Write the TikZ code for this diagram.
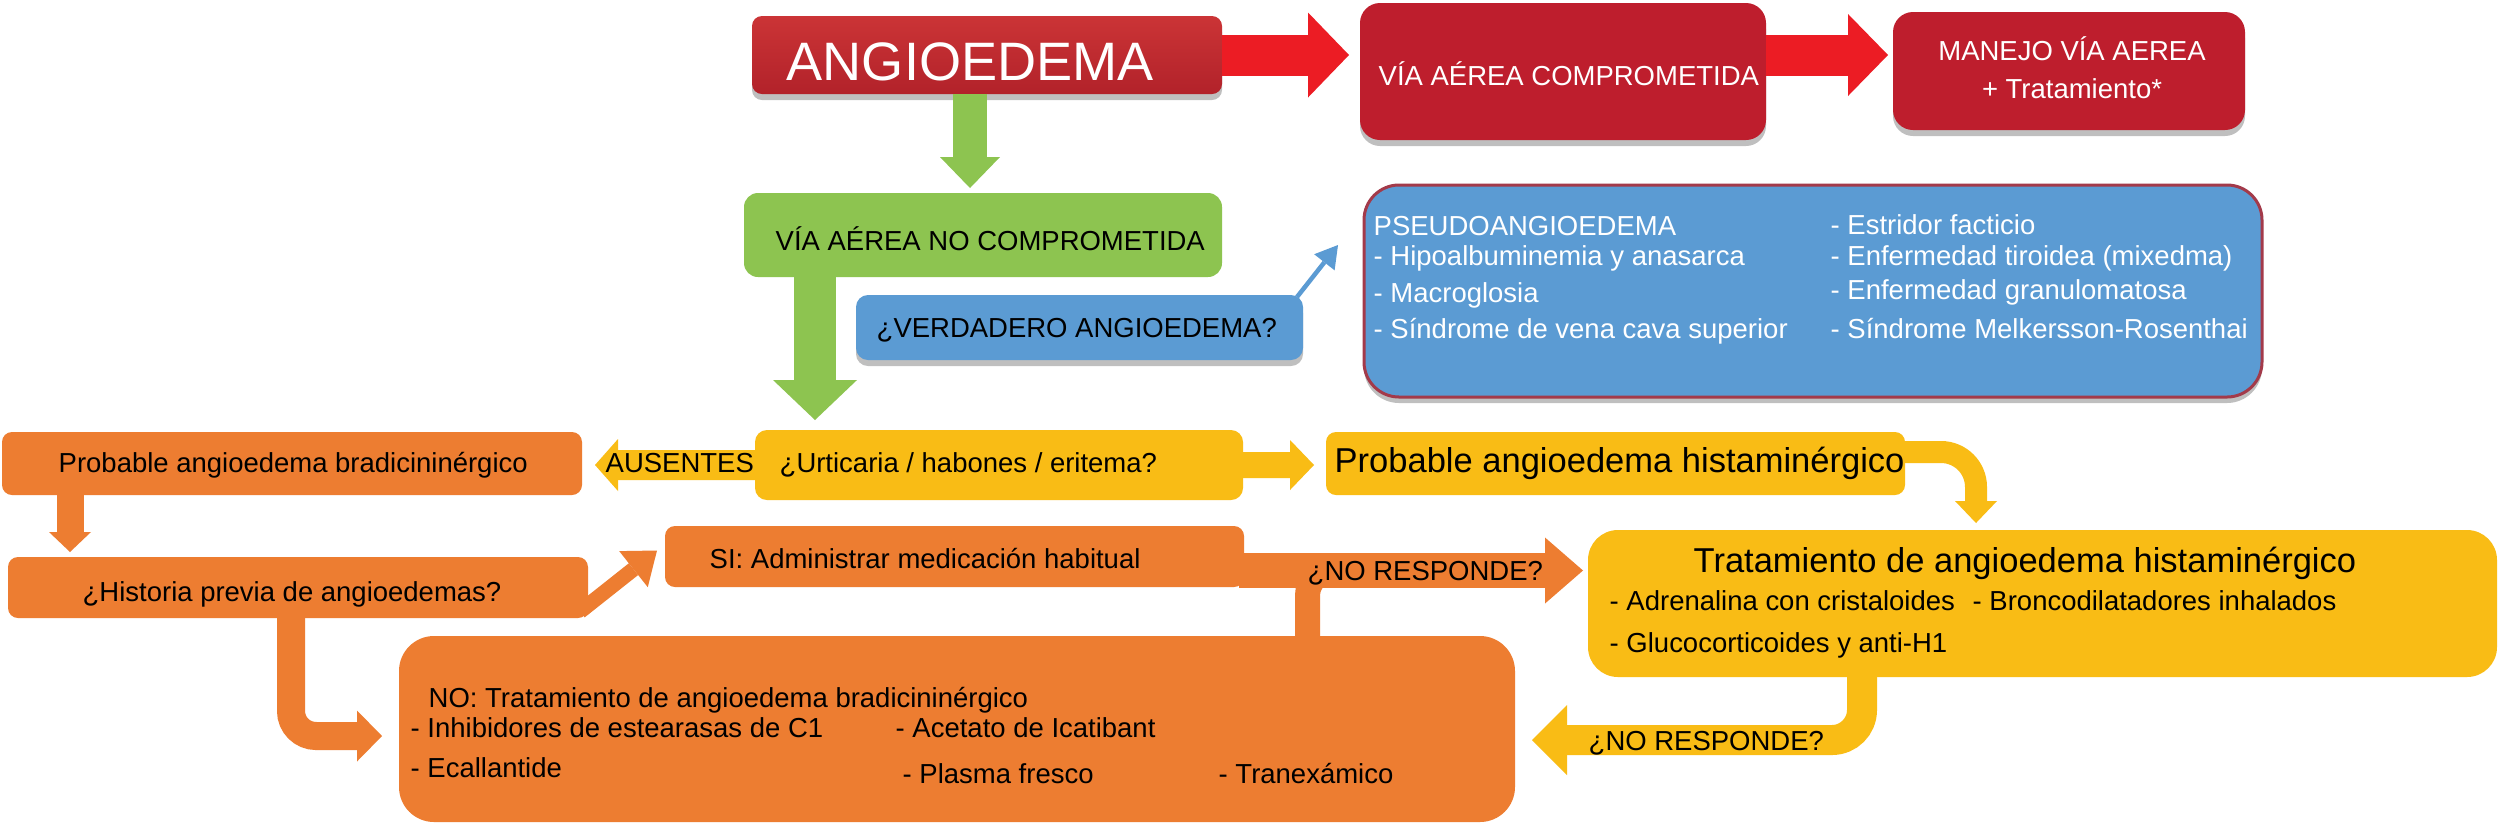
\documentclass[tikz,border=0pt]{standalone}
\usepackage{fontspec}
\setmainfont{Liberation Sans}
\usetikzlibrary{arrows.meta,calc,shadows}
\definecolor{dred}{HTML}{BE1E2D}
\definecolor{angtop}{HTML}{CB3436}
\definecolor{angbot}{HTML}{B2222A}
\definecolor{bred}{HTML}{EC1C24}
\definecolor{lgreen}{HTML}{8DC450}
\definecolor{mblue}{HTML}{5B9BD3}
\definecolor{yel}{HTML}{F9BC15}
\definecolor{orng}{HTML}{ED7D31}
\definecolor{pborder}{HTML}{A33A4A}
\begin{document}
\begin{tikzpicture}[x=0.1mm,y=-0.1mm,
  box/.style={inner sep=0pt, outer sep=0pt},
  shadowed/.style={drop shadow={shadow xshift=0mm, shadow yshift=-0.6mm, opacity=0.25, fill=black}},
  blk/.style n args={4}{draw=#1, line width=#2, -{Triangle[length=#3,width=#4,line width=0pt]}},
  txt/.style={anchor=base west, inner sep=0pt, font=\fontsize{7.82}{9}\selectfont},
  txtw/.style={txt, text=white},
  bigtxt/.style={anchor=base west, inner sep=0pt, font=\fontsize{9.82}{11}\selectfont}
]
\useasboundingbox (0,0) rectangle (2500,824);
\fill[white] (0,0) rectangle (2500,824);

% ---------- boxes ----------
\node[box, top color=angtop, bottom color=angbot, minimum width=47mm, minimum height=7.8mm, rounded corners=1mm, shadowed] (angio) at (987,55) {};
\node[box, fill=dred, minimum width=40.6mm, minimum height=13.7mm, rounded corners=2mm, shadowed] (vac) at (1563,71.5) {};
\node[box, fill=dred, minimum width=35.2mm, minimum height=11.8mm, rounded corners=2mm, shadowed] (manejo) at (2069,71) {};
\node[box, fill=lgreen, minimum width=47.8mm, minimum height=8.4mm, rounded corners=1.4mm] (vanc) at (983,235) {};
\node[box, fill=mblue, minimum width=44.7mm, minimum height=6.5mm, rounded corners=1.2mm, shadowed] (verd) at (1079.5,327.5) {};
\node[box, fill=mblue, draw=pborder, line width=0.3mm, minimum width=89.8mm, minimum height=21.2mm, rounded corners=3.5mm, shadowed] (pseudo) at (1813,291) {};
\node[box, fill=yel, minimum width=48.8mm, minimum height=7mm, rounded corners=1.2mm] (urt) at (999,465) {};
\node[box, fill=orng, minimum width=58mm, minimum height=6.3mm, rounded corners=1mm] (pbrad) at (292,463.5) {};
\node[box, fill=yel, minimum width=57.9mm, minimum height=6.3mm, rounded corners=1mm] (phist) at (1615.5,463.5) {};
\node[box, fill=yel, minimum width=90.9mm, minimum height=14.7mm, rounded corners=3mm] (trath) at (2042.5,603.5) {};
\node[box, fill=orng, minimum width=57.9mm, minimum height=6.1mm, rounded corners=1mm] (si) at (954.5,556.5) {};
\node[box, fill=orng, minimum width=58mm, minimum height=6.1mm, rounded corners=1mm] (hist) at (298,587.5) {};
\node[box, fill=orng, minimum width=111.6mm, minimum height=18.6mm, rounded corners=3.5mm] (nobox) at (957,729) {};

% ---------- connectors ----------
\draw[blk={bred}{4.1mm}{4.1mm}{8.5mm}] (angio.east) -- ($(vac.west)+(-11,-16.5)$);
\draw[blk={bred}{4.1mm}{4mm}{8.2mm}] ($(vac.east)+(0,-16.5)$) -- ($(manejo.west)+(-5,-16)$);
\draw[blk={lgreen}{3.4mm}{3.1mm}{6mm}] ($(angio.south)+(-17,0)$) -- ($(vanc.north)+(-13,-5)$);
\draw[blk={lgreen}{4.2mm}{4mm}{8.4mm}] ($(vanc.south)+(-168,0)$) -- ($(urt.north)+(-184,-10)$);
\draw[blk={mblue}{0.45mm}{2.2mm}{2.6mm}] ($(verd.north east)+(-6,2)$) -- ($(pseudo.west)+(-26,-46)$);
\draw[blk={yel}{3mm}{2.3mm}{5.2mm}] ($(urt.west)+(10,0)$) -- ($(pbrad.east)+(13,1.5)$);
\draw[blk={yel}{2.6mm}{2.4mm}{5mm}] (urt.east) -- ($(phist.west)+(-12,1.5)$);
\draw[blk={yel}{2.2mm}{2.2mm}{4.2mm}, rounded corners=3.5mm] ($(phist.east)+(-10,-11.5)$) -| ($(trath.north)+(-66.5,-7)$);
\draw[blk={orng}{2.7mm}{2mm}{4.2mm}] ($(pbrad.south)+(-222,0)$) -- ($(hist.north)+(-228,-5)$);
\draw[blk={orng}{1.5mm}{3mm}{4.6mm}] ($(hist.east)+(-8,24)$) -- ($(si.west)+(-8,-6)$);
\draw[blk={orng}{2.8mm}{2.5mm}{5.1mm}, rounded corners=2.5mm] ($(hist.south)+(-7,0)$) |- ($(nobox.west)+(-17,7)$);
\draw[orng, line width=2.5mm, rounded corners=2.5mm] ($(nobox.north)+(350.5,4)$) |- ($(si.east)+(150,14)$);
\draw[blk={orng}{3.5mm}{3.8mm}{6.6mm}] ($(si.east)+(-5,14)$) -- ($(trath.west)+(-5,-33)$);
\draw[blk={yel}{3mm}{3.5mm}{7mm}, rounded corners=3mm] ($(trath.south)+(-180.5,-3)$) |- ($(nobox.east)+(17,11)$);

% ---------- texts ----------
\node[txtw, font=\fontsize{15.4}{17}\selectfont] (tangio) at (786,80) {ANGIOEDEMA};
\node[txtw] (tvac) at (1378,85) {VÍA AÉREA COMPROMETIDA};
\node[txtw, anchor=base] (tman1) at (2072,60) {MANEJO VÍA AEREA};
\node[txtw, anchor=base] (tman2) at (2072,98) {+ Tratamiento*};
\node[txt] (tvanc) at (775,250) {VÍA AÉREA NO COMPROMETIDA};
\node[txt] (tverd) at (876,337) {¿VERDADERO ANGIOEDEMA?};
\node[txtw] (tps0) at (1373,235) {PSEUDOANGIOEDEMA};
\node[txtw] (tps1) at (1373,265) {- Hipoalbuminemia y anasarca};
\node[txtw] (tps2) at (1373,302) {- Macroglosia};
\node[txtw] (tps3) at (1373,338) {- Síndrome de vena cava superior};
\node[txtw] (tps4) at (1830,234) {- Estridor facticio};
\node[txtw] (tps5) at (1830,265) {- Enfermedad tiroidea (mixedma)};
\node[txtw] (tps6) at (1830,299) {- Enfermedad granulomatosa};
\node[txtw] (tps7) at (1830,338) {- Síndrome Melkersson-Rosenthai};
\node[txt] (taus) at (605,472) {AUSENTES};
\node[txt] (turt) at (779,472) {¿Urticaria / habones / eritema?};
\node[txt] (tpbrad) at (58,472) {Probable angioedema bradicininérgico};
\node[bigtxt] (tphist) at (1334,472) {Probable angioedema histaminérgico};
\node[txt] (thist) at (82,601) {¿Historia previa de angioedemas?};
\node[txt] (tsi) at (709,568) {SI: Administrar medicación habitual};
\node[txt] (tnr1) at (1307,580) {¿NO RESPONDE?};
\node[bigtxt] (ttrath) at (1693,572) {Tratamiento de angioedema histaminérgico};
\node[txt] (tth1) at (1609,610) {- Adrenalina con cristaloides};
\node[txt] (tth2) at (1972,610) {- Broncodilatadores inhalados};
\node[txt] (tth3) at (1609,652) {- Glucocorticoides y anti-H1};
\node[txt] (tnr2) at (1588,750) {¿NO RESPONDE?};
\node[txt] (tno0) at (428,707) {NO: Tratamiento de angioedema bradicininérgico};
\node[txt] (tno1) at (410,737) {- Inhibidores de estearasas de C1};
\node[txt] (tno2) at (895,737) {- Acetato de Icatibant};
\node[txt] (tno3) at (410,777) {- Ecallantide};
\node[txt] (tno4) at (902,783) {- Plasma fresco};
\node[txt] (tno5) at (1218,783) {- Tranexámico};
\end{tikzpicture}
\end{document}
